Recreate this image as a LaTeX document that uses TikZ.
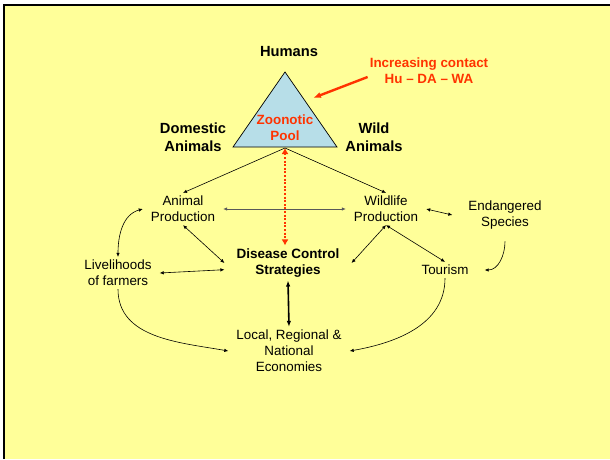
\documentclass[tikz,border=0pt]{standalone}
\usepackage{fontspec}
\setmainfont{Liberation Sans}
\usetikzlibrary{arrows.meta}
\definecolor{slideyellow}{HTML}{FFFF99}
\definecolor{poolblue}{HTML}{B7DEE8}
\definecolor{alertred}{HTML}{FF3300}

\begin{document}
\begin{tikzpicture}[
  x=1pt,
  y=1pt,
  corner/.style={
    align=center,
    font=\fontsize{14.7}{18}\selectfont\bfseries,
    inner sep=2pt
  },
  factor/.style={
    align=center,
    font=\fontsize{13.4}{16}\selectfont,
    inner xsep=8pt,
    inner ysep=3pt
  },
  hub/.style={
    align=center,
    font=\fontsize{13.5}{16}\selectfont\bfseries,
    inner xsep=12pt,
    inner ysep=3pt
  },
  alert/.style={
    align=center,
    text=alertred,
    font=\fontsize{13.4}{16}\selectfont\bfseries,
    inner sep=2pt
  },
  link/.style={{Latex[length=4pt,width=3.5pt]}-{Latex[length=4pt,width=3.5pt]}, line width=0.6pt},
  feed/.style={-{Latex[length=4pt,width=3.5pt]}, line width=0.6pt},
  strong/.style={{Latex[length=6pt,width=4.5pt]}-{Latex[length=6pt,width=4.5pt]}, line width=1.6pt},
  contact/.style={-{Latex[length=8pt,width=6pt]}, line width=2.4pt, draw=alertred},
  zoonosis/.style={{Latex[length=6pt,width=7pt]}-{Latex[length=6pt,width=7pt]}, line width=2.4pt, dash pattern=on 2pt off 1.6pt, draw=alertred}
]

\useasboundingbox (0,0) rectangle (610,-459);
\fill[white] (0,0) rectangle (610,-459);
\fill[slideyellow] (4,-5) rectangle (610,-459);
\draw[line width=2.4pt] (4,-459) -- (4,-5) -- (610,-5);

\coordinate (apex) at (285,-72);
\coordinate (baseL) at (233,-147);
\coordinate (baseR) at (337,-147);
\coordinate (poolbase) at (285,-148);
\coordinate (pooltip) at (313,-98);
\draw[fill=poolblue, line width=0.7pt] (baseL) -- (apex) -- (baseR) -- cycle;

\node[corner] (humans) at (289,-52) {Humans};
\node[corner] (domestic) at (193,-137) {Domestic\\Animals};
\node[corner] (wildani) at (374,-137) {Wild\\Animals};
\node[alert] (pool) at (285,-128) {Zoonotic\\Pool};
\node[alert] (contact) at (429,-71) {Increasing contact\\Hu -- DA -- WA};

\node[factor] (anim) at (183,-209) {Animal\\Production};
\node[factor] (wildprod) at (386,-209) {Wildlife\\Production};
\node[factor, inner xsep=16pt, inner ysep=12pt] (endang) at (505,-215) {Endangered\\Species};
\node[hub] (dcs) at (288,-263) {Disease Control\\Strategies};
\node[factor] (liv) at (118,-273) {Livelihoods\\of farmers};
\node[factor, inner xsep=16pt] (tour) at (445,-270) {Tourism};
\node[factor] (econ) at (289,-351) {Local, Regional \&\\National\\Economies};

\draw[feed] (poolbase) -- (anim.north);
\draw[feed] (poolbase) -- (wildprod.north);
\draw[link, draw=black!65] (anim.east) -- (wildprod.west);
\draw[zoonosis] (poolbase) -- (poolbase |- dcs.north);
\draw[contact] ([yshift=-6pt]contact.west) -- (pooltip);

\draw[link] (wildprod.east) -- (endang.west);
\draw[link] (anim.south) -- (dcs.west);
\draw[link] (wildprod.south) -- (dcs.east);
\draw[link] (wildprod.south) -- (tour.north);
\draw[link] (liv.east) -- (dcs.186);
\draw[strong] (dcs.south) -- (econ.north);

\draw[link] (anim.west) to[out=195,in=90] (liv.north);
\draw[feed] (endang.south) to[out=270,in=0] (tour.east);
\draw[feed] (liv.south) to[out=270,in=170] (econ.west);
\draw[feed] (tour.south) to[out=270,in=10] (econ.east);

\end{tikzpicture}
\end{document}
